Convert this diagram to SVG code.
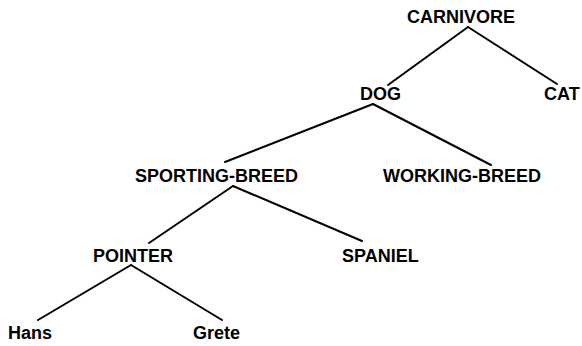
<svg xmlns="http://www.w3.org/2000/svg" width="582" height="346" viewBox="0 0 582 346">
  <style>
    .lbl { font-family: "Liberation Sans", Arial, sans-serif; font-weight: bold; font-size: 18px; fill: #000; }
    .edge { stroke: #000; stroke-width: 2; fill: none; stroke-linecap: round; }
  </style>
  <rect width="582" height="346" fill="#fff"/>
  <g id="connectors">
    <line class="edge" x1="468" y1="27" x2="388" y2="85"/>
    <line class="edge" x1="468" y1="27" x2="557" y2="84"/>
    <line class="edge" x1="373" y1="104" x2="225" y2="162"/>
    <line class="edge" x1="373" y1="104" x2="491" y2="165"/>
    <line class="edge" x1="233" y1="186" x2="149" y2="243"/>
    <line class="edge" x1="233" y1="186" x2="362" y2="241"/>
    <line class="edge" x1="131" y1="265" x2="38" y2="320"/>
    <line class="edge" x1="131" y1="265" x2="222" y2="320"/>
  </g>
  <g id="carnivore"><text class="lbl" x="407" y="23">CARNIVORE</text></g>
  <g id="dog"><text class="lbl" x="360" y="100">DOG</text></g>
  <g id="cat"><text class="lbl" x="544" y="100">CAT</text></g>
  <g id="sporting-breed"><text class="lbl" x="135" y="182">SPORTING-BREED</text></g>
  <g id="working-breed"><text class="lbl" x="383" y="182">WORKING-BREED</text></g>
  <g id="pointer"><text class="lbl" x="93" y="262">POINTER</text></g>
  <g id="spaniel"><text class="lbl" x="342" y="262">SPANIEL</text></g>
  <g id="hans"><text class="lbl" x="8" y="339">Hans</text></g>
  <g id="grete"><text class="lbl" x="193" y="339">Grete</text></g>
</svg>
